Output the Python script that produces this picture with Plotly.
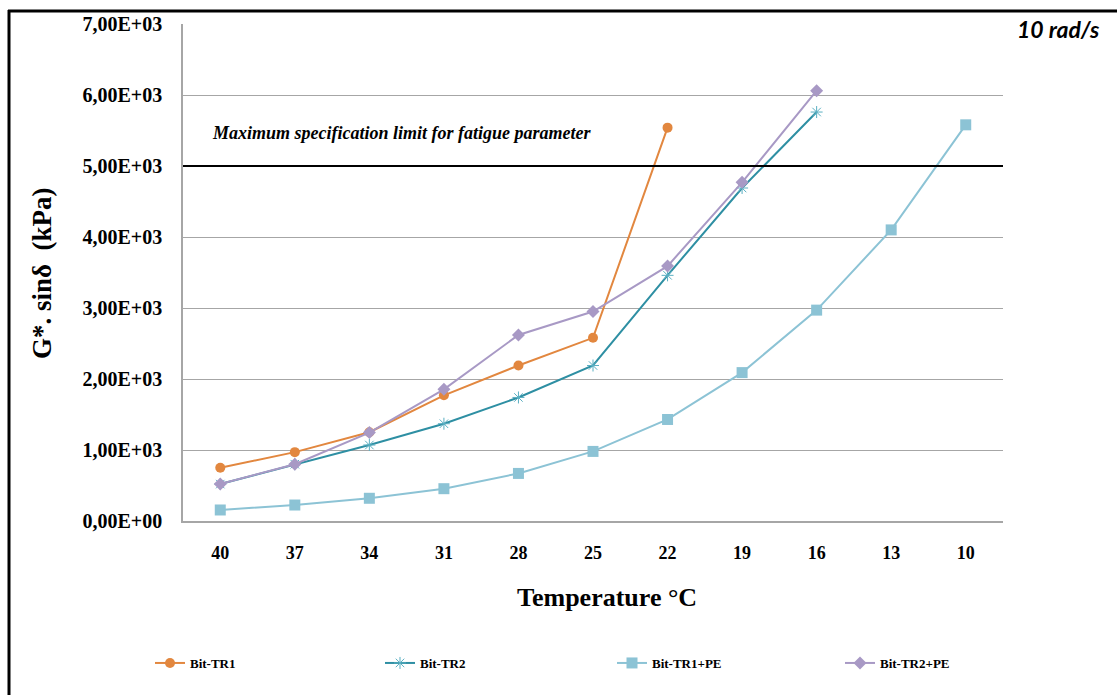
import plotly.graph_objects as go

temperatures = ["40", "37", "34", "31", "28", "25", "22", "19", "16", "13", "10"]

bit_tr1 = [750, 970, 1250, 1770, 2190, 2580, 5540]
bit_tr2 = [520, 800, 1070, 1370, 1740, 2190, 3460, 4690, 5760]
bit_tr1_pe = [155, 225, 320, 455, 670, 980, 1430, 2090, 2970, 4100, 5580]
bit_tr2_pe = [520, 800, 1245, 1855, 2620, 2950, 3590, 4770, 6060]

spec_limit = 5000

ytick_vals = [0, 1000, 2000, 3000, 4000, 5000, 6000, 7000]
ytick_text = ["0,00E+00", "1,00E+03", "2,00E+03", "3,00E+03",
              "4,00E+03", "5,00E+03", "6,00E+03", "7,00E+03"]

W, H = 1117, 695
L, R, T, B = 183, 1003, 24, 521


def px(x):
    return (x - L) / (R - L)


def py(y):
    return (B - y) / (B - T)


serif = "Liberation Serif"

fig = go.Figure()

fig.add_trace(go.Scatter(
    x=temperatures[:len(bit_tr1)], y=bit_tr1, name="Bit-TR1", mode="lines+markers",
    line=dict(color="#E2873F", width=2),
    marker=dict(symbol="circle", size=10, color="#E2873F"), legend="legend"))
fig.add_trace(go.Scatter(
    x=temperatures[:len(bit_tr2)], y=bit_tr2, name="Bit-TR2", mode="lines+markers",
    line=dict(color="#2E8FA3", width=2),
    marker=dict(symbol="asterisk-open", size=10, color="#5AAFC2",
                line=dict(color="#5AAFC2", width=1)), legend="legend2"))
fig.add_trace(go.Scatter(
    x=temperatures[:len(bit_tr1_pe)], y=bit_tr1_pe, name="Bit-TR1+PE", mode="lines+markers",
    line=dict(color="#8CC3D5", width=2),
    marker=dict(symbol="square", size=11, color="#8CC3D5"), legend="legend3"))
fig.add_trace(go.Scatter(
    x=temperatures[:len(bit_tr2_pe)], y=bit_tr2_pe, name="Bit-TR2+PE", mode="lines+markers",
    line=dict(color="#A899C5", width=2),
    marker=dict(symbol="diamond", size=10, color="#A899C5"), legend="legend4"))

shapes = [
    dict(type="line", xref="paper", yref="y", x0=0, x1=1, y0=spec_limit, y1=spec_limit,
         line=dict(color="black", width=2.2), layer="above"),
    dict(type="rect", xref="paper", yref="paper", x0=px(963), x1=px(1110), y0=py(40), y1=py(16),
         fillcolor="white", line=dict(width=0), layer="above"),
    dict(type="line", xref="paper", yref="paper", x0=px(9), x1=px(9), y0=py(10), y1=py(700),
         line=dict(color="black", width=3)),
    dict(type="line", xref="paper", yref="paper", x0=px(8), x1=px(1120), y0=py(11), y1=py(11),
         line=dict(color="black", width=3)),
]

annotations = [
    dict(text="<b><i>Maximum specification limit for fatigue parameter</i></b>",
         xref="paper", yref="paper", x=px(210), y=py(133), xanchor="left", yanchor="middle",
         showarrow=False, font=dict(family=serif, size=18, color="black")),
    dict(text="<b><i>10 rad/s</i></b>",
         xref="paper", yref="paper", x=px(1102), y=py(29), xanchor="right", yanchor="middle",
         showarrow=False, font=dict(family="Lato", size=23, color="black")),
    dict(text="<b>Temperature °C</b>",
         xref="paper", yref="paper", x=px(607), y=py(597), xanchor="center", yanchor="middle",
         showarrow=False, font=dict(family=serif, size=26, color="black")),
    dict(text="<b>G*. sinδ  (kPa)</b>",
         xref="paper", yref="paper", x=px(42), y=py(273), xanchor="center", yanchor="middle",
         textangle=-90, showarrow=False, font=dict(family=serif, size=27, color="black")),
]

legend_font = dict(family=serif, size=13, color="black", weight="bold")
legend_x_px = [150, 380, 612, 840]


def legend_at(xpix):
    return dict(orientation="h", xref="container", yref="container",
                x=xpix / W, y=1 - 663 / H, xanchor="left", yanchor="middle",
                font=legend_font, itemwidth=30, bgcolor="rgba(0,0,0,0)")


fig.update_layout(
    width=W, height=H,
    margin=dict(l=L, r=W - R, t=T, b=H - B, autoexpand=False),
    paper_bgcolor="white", plot_bgcolor="white",
    font=dict(family=serif, color="black"),
    shapes=shapes, annotations=annotations,
    showlegend=True,
    legend=legend_at(legend_x_px[0]),
    legend2=legend_at(legend_x_px[1]),
    legend3=legend_at(legend_x_px[2]),
    legend4=legend_at(legend_x_px[3]),
)

fig.update_xaxes(
    type="category", categoryorder="array", categoryarray=temperatures,
    range=[-0.5, len(temperatures) - 0.5],
    showgrid=False, showline=True, linecolor="#A6A6A6", linewidth=1.5,
    ticks="", ticklabelstandoff=15,
    tickfont=dict(family=serif, size=18, color="black", weight="bold"),
)
fig.update_yaxes(
    range=[0, 7000], tickvals=ytick_vals, ticktext=ytick_text,
    showgrid=True, gridcolor="#A6A6A6", gridwidth=1.2,
    showline=True, linecolor="#A6A6A6", linewidth=1.5,
    zeroline=False, ticks="", ticklabelstandoff=15,
    tickfont=dict(family=serif, size=20, color="black", weight="bold"),
)

fig.write_html(
    "out.html",
    config={"displayModeBar": False},
    post_script="document.body.style.margin='0';document.body.style.padding='0';"
                "document.documentElement.style.overflow='hidden';",
)
